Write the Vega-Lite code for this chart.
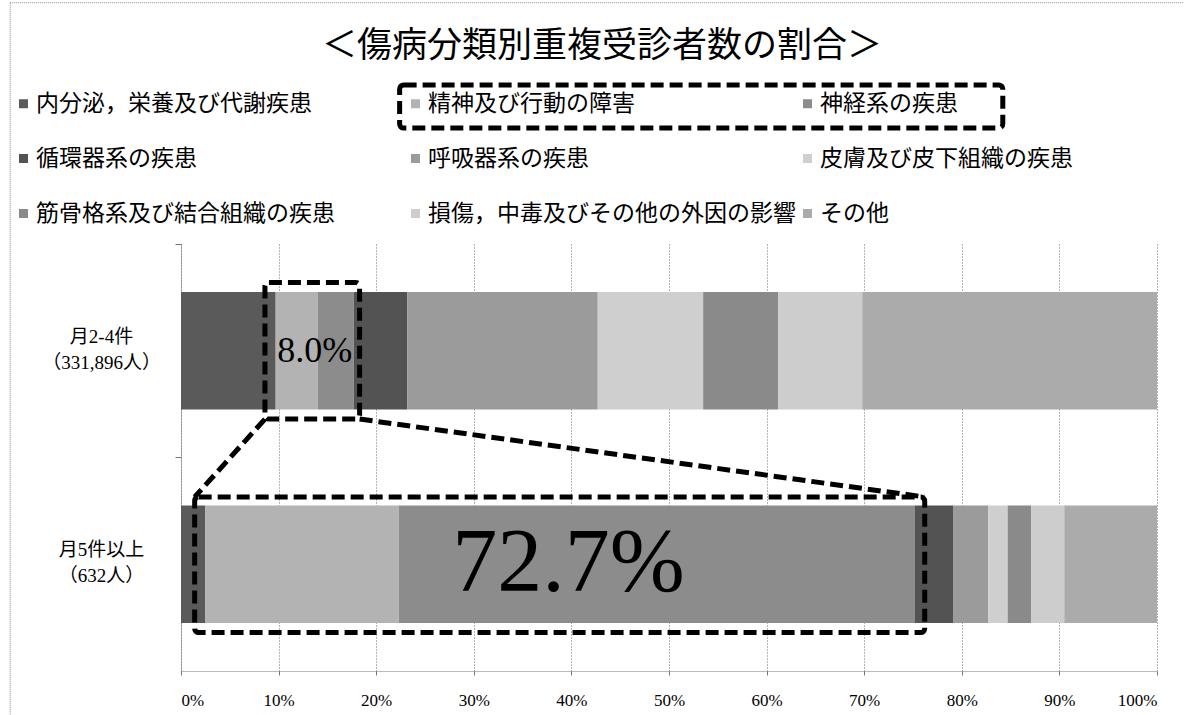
{
  "$schema": "https://vega.github.io/schema/vega-lite/v6.json",
  "autosize": {"type": "none"},
  "padding": {"left": 181, "top": 244, "right": 27, "bottom": 44},
  "width": 976,
  "height": 427,
  "background": "#ffffff",
  "title": {
    "text": "＜傷病分類別重複受診者数の割合＞",
    "font": "Noto Sans CJK JP",
    "fontSize": 35,
    "fontWeight": "normal",
    "color": "#000000",
    "anchor": "middle",
    "frame": "group",
    "dx": -67,
    "offset": -62
  },
  "config": {
    "view": {"stroke": null},
    "axis": {"labelColor": "#000000"}
  },
  "datasets": {
    "bars": [
      {"group": "月2-4件\n（331,896人）", "cat": "内分泌，栄養及び代謝疾患", "k": 1, "pct": 9.7},
      {"group": "月2-4件\n（331,896人）", "cat": "精神及び行動の障害", "k": 2, "pct": 4.3},
      {"group": "月2-4件\n（331,896人）", "cat": "神経系の疾患", "k": 3, "pct": 3.7},
      {"group": "月2-4件\n（331,896人）", "cat": "循環器系の疾患", "k": 4, "pct": 5.5},
      {"group": "月2-4件\n（331,896人）", "cat": "呼吸器系の疾患", "k": 5, "pct": 19.5},
      {"group": "月2-4件\n（331,896人）", "cat": "皮膚及び皮下組織の疾患", "k": 6, "pct": 10.8},
      {"group": "月2-4件\n（331,896人）", "cat": "筋骨格系及び結合組織の疾患", "k": 7, "pct": 7.7},
      {"group": "月2-4件\n（331,896人）", "cat": "損傷，中毒及びその他の外因の影響", "k": 8, "pct": 8.6},
      {"group": "月2-4件\n（331,896人）", "cat": "その他", "k": 9, "pct": 30.2},
      {"group": "月5件以上\n（632人）", "cat": "内分泌，栄養及び代謝疾患", "k": 1, "pct": 2.5},
      {"group": "月5件以上\n（632人）", "cat": "精神及び行動の障害", "k": 2, "pct": 19.8},
      {"group": "月5件以上\n（632人）", "cat": "神経系の疾患", "k": 3, "pct": 52.9},
      {"group": "月5件以上\n（632人）", "cat": "循環器系の疾患", "k": 4, "pct": 3.9},
      {"group": "月5件以上\n（632人）", "cat": "呼吸器系の疾患", "k": 5, "pct": 3.6},
      {"group": "月5件以上\n（632人）", "cat": "皮膚及び皮下組織の疾患", "k": 6, "pct": 2.0},
      {"group": "月5件以上\n（632人）", "cat": "筋骨格系及び結合組織の疾患", "k": 7, "pct": 2.4},
      {"group": "月5件以上\n（632人）", "cat": "損傷，中毒及びその他の外因の影響", "k": 8, "pct": 3.4},
      {"group": "月5件以上\n（632人）", "cat": "その他", "k": 9, "pct": 9.5}
    ],
    "labels": [
      {"group": "月2-4件\n（331,896人）", "x": 13.7, "label": "8.0%", "big": 0},
      {"group": "月5件以上\n（632人）", "x": 39.7, "label": "72.7%", "big": 1}
    ],
    "boxes": [
      {"x": 8.6, "x2": 18.3, "y": 0.18, "y2": 0.82},
      {"x": 1.4, "x2": 76.2, "y": 1.185, "y2": 1.82},
      {"x": 22.4, "x2": 84.2, "y": -0.745, "y2": -0.543}
    ],
    "links": [
      {"x": 8.6, "x2": 1.4, "y": 0.82, "y2": 1.185},
      {"x": 18.3, "x2": 76.2, "y": 0.82, "y2": 1.185}
    ],
    "frame": [
      {"x": -17.5, "x2": 104, "y": -1.13, "y2": 2.4}
    ]
  },
  "layer": [
    {
      "layer": [
        {
          "data": {"name": "bars"},
          "mark": {"type": "bar"},
          "encoding": {
            "y": {
              "field": "group", "type": "nominal", "sort": null, "title": null,
              "scale": {"paddingInner": 0.45, "paddingOuter": 0.225},
              "axis": {
                "labelExpr": "split(datum.label, '\\n')",
                "labelFont": "Liberation Serif, Noto Sans CJK JP",
                "labelFontSize": 19,
                "labelLineHeight": 26,
                "labelAlign": "center",
                "labelPadding": 74,
                "labelLimit": 300,
                "labelOffset": -14,
                "bandPosition": -0.409,
                "tickSize": 6,
                "tickColor": "#777777",
                "domainColor": "#777777",
                "domainDash": [1, 1],
                "ticks": true,
                "grid": false
              }
            },
            "x": {
              "field": "pct", "type": "quantitative", "stack": "zero", "title": null,
              "scale": {"domain": [0, 100], "nice": false},
              "axis": {
                "values": [0, 10, 20, 30, 40, 50, 60, 70, 80, 90, 100],
                "labelExpr": "datum.value + '%'",
                "labelFont": "Liberation Serif",
                "labelFontSize": 17,
                "labelPadding": 17,
                "tickSize": 4,
                "tickColor": "#777777",
                "domainColor": "#777777",
                "domainDash": [1, 1],
                "grid": true,
                "gridColor": "#666666",
                "gridDash": [1, 2],
                "gridWidth": 1
              }
            },
            "color": {
              "field": "cat", "type": "nominal", "title": null,
              "scale": {
                "domain": ["内分泌，栄養及び代謝疾患", "精神及び行動の障害", "神経系の疾患", "循環器系の疾患", "呼吸器系の疾患", "皮膚及び皮下組織の疾患", "筋骨格系及び結合組織の疾患", "損傷，中毒及びその他の外因の影響", "その他"],
                "range": ["#5a5a5a", "#b3b3b3", "#8c8c8c", "#535353", "#9b9b9b", "#cfcfcf", "#8a8a8a", "#cdcdcd", "#ababab"]
              },
              "legend": {
                "orient": "none",
                "legendX": -169,
                "legendY": -152,
                "padding": 0,
                "direction": "horizontal",
                "columns": 3,
                "gridAlign": "all",
                "columnPadding": 0,
                "rowPadding": 31,
                "symbolType": "square",
                "symbolSize": 81,
                "symbolStrokeWidth": 0,
                "symbolOpacity": 1,
                "labelFont": "Noto Sans CJK JP",
                "labelFontSize": 23,
                "labelColor": "#000000",
                "labelOffset": 1,
                "labelLimit": 500
              }
            },
            "order": {"field": "k", "type": "quantitative"}
          }
        },
        {
          "data": {"name": "labels"},
          "mark": {"type": "text", "font": "Liberation Serif", "color": "#000000", "baseline": "middle", "align": "center"},
          "encoding": {
            "y": {"field": "group", "type": "nominal", "sort": null, "title": null},
            "x": {"field": "x", "type": "quantitative", "title": null},
            "text": {"field": "label"},
            "size": {"field": "big", "type": "quantitative", "scale": {"domain": [0, 1], "range": [36, 90]}, "legend": null}
          }
        }
      ]
    },
    {
      "layer": [
        {
          "data": {"name": "frame"},
          "mark": {"type": "rect", "filled": false, "stroke": "#888888", "strokeWidth": 1, "strokeDash": [1, 1]},
          "encoding": {
            "x": {"field": "x", "type": "quantitative", "title": null},
            "x2": {"field": "x2"},
            "y": {"field": "y", "type": "quantitative", "title": null, "axis": null, "scale": {"domain": [0, 2], "reverse": true, "nice": false, "zero": false}},
            "y2": {"field": "y2"}
          }
        },
        {
          "data": {"name": "boxes"},
          "mark": {"type": "rect", "filled": false, "stroke": "#000000", "strokeWidth": 5, "strokeDash": [13, 6], "cornerRadius": 4},
          "encoding": {
            "x": {"field": "x", "type": "quantitative", "title": null},
            "x2": {"field": "x2"},
            "y": {"field": "y", "type": "quantitative", "title": null, "axis": null},
            "y2": {"field": "y2"}
          }
        },
        {
          "data": {"name": "links"},
          "mark": {"type": "rule", "stroke": "#000000", "strokeWidth": 5, "strokeDash": [13, 6]},
          "encoding": {
            "x": {"field": "x", "type": "quantitative", "title": null},
            "x2": {"field": "x2"},
            "y": {"field": "y", "type": "quantitative", "title": null, "axis": null},
            "y2": {"field": "y2"}
          }
        }
      ]
    }
  ],
  "resolve": {"scale": {"y": "independent", "size": "independent"}}
}
